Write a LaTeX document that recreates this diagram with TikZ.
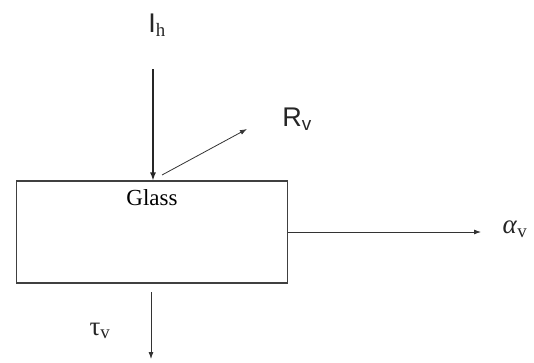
\documentclass[tikz,border=0pt]{standalone}
\usepackage{fontspec}
\setmainfont{Liberation Serif}
\newfontfamily\arialfont{Liberation Sans}
\usetikzlibrary{positioning, arrows.meta}

\begin{document}
\begin{tikzpicture}[x=1pt, y=-1pt,
  glass/.style={
    draw=black!75, line width=1.1pt,
    minimum width=271pt, minimum height=102pt,
    inner sep=0pt
  },
  ray/.style={-{Latex[length=7pt, width=5pt]}, line width=0.8pt, black!80},
  inray/.style={-{Latex[length=8pt, width=6pt]}, line width=1.4pt, black!85},
  sym/.style={font=\fontsize{27}{30}\selectfont, inner sep=0pt, text=black!85},
  label/.style={font=\fontsize{23}{26}\selectfont, inner sep=0pt}
]
\useasboundingbox (0,0) rectangle (534,362);

% ---- Plaque de verre ----
\node[glass] (box) at (152, 232) {};
\node[label, below=9pt of box.north] (gl) {Glass};

% ---- Rayon incident ----
\coordinate (src) at (153, 69);
\node[sym] (ih) at (157, 25) {{\arialfont I}\textsubscript{h}};
\draw[inray] (src) -- (src |- box.north);

% ---- Réflexion ----
\coordinate (rfrom) at (162, 175);
\coordinate (rto) at (247, 129);
\node[sym] (rv) at (297, 119) {{\arialfont R\textsubscript{v}}};
\draw[ray] (rfrom) -- (rto);

% ---- Absorption ----
\coordinate (aend) at (481, 232);
\node[sym] (av) at (515, 229) {\textit{α}\textsubscript{v}};
\draw[ray] (box.east) -- (aend);

% ---- Transmission ----
\coordinate (tstart) at (151, 292);
\coordinate (tend) at (151, 359);
\node[sym] (tv) at (100, 331) {τ\textsubscript{v}};
\draw[ray] (tstart) -- (tend);

\end{tikzpicture}
\end{document}
